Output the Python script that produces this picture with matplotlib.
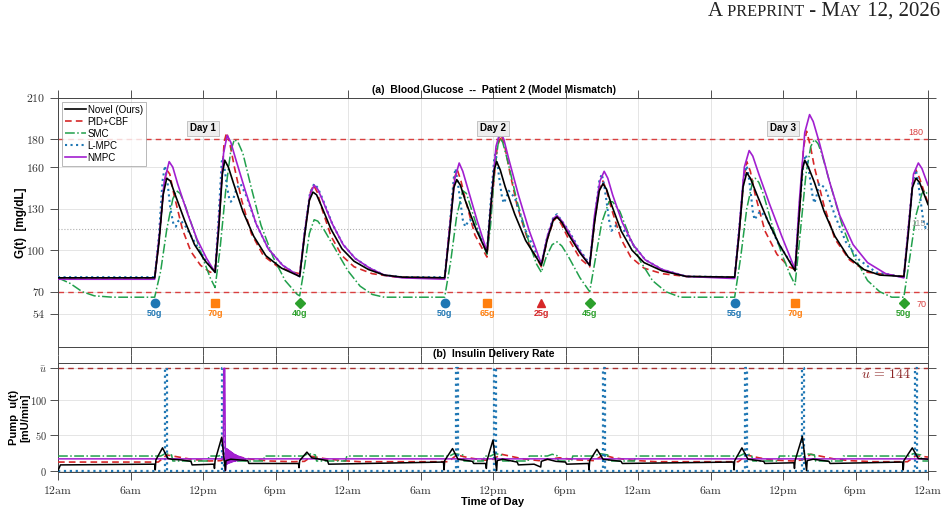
import numpy as np
import matplotlib
matplotlib.use('Agg')
import matplotlib.pyplot as plt
from matplotlib.offsetbox import TextArea, HPacker, AnchoredOffsetbox

plt.rcParams['font.family'] = ['Liberation Sans', 'DejaVu Sans']
plt.rcParams['mathtext.fontset'] = 'cm'

# ---------------- data (hours from 12am of day 1) ----------------
# (a) blood glucose [mg/dL], (time, value) pairs
g_novel = [(0, 80), (8.0, 80), (8.35, 105), (8.7, 140), (9.0, 152), (9.3, 150), (9.7, 140),
           (10.5, 121), (11.3, 104), (12.2, 92), (13.0, 84),
           (13.3, 115), (13.6, 155), (13.8, 165), (14.1, 160), (14.5, 149), (15.3, 128),
           (16.2, 110), (17.2, 96), (18.5, 87), (20.0, 81),
           (20.4, 110), (20.8, 136), (21.1, 142), (21.4, 140), (21.8, 132), (22.6, 115),
           (23.5, 101), (24.5, 92), (25.7, 86), (27.0, 82), (28.5, 80.5),
           (32.0, 80), (32.4, 112), (32.75, 145), (33.0, 151), (33.3, 147), (33.7, 136),
           (34.6, 115), (35.5, 98),
           (35.8, 130), (36.1, 158), (36.3, 164), (36.6, 158), (37.0, 146), (37.8, 126),
           (38.7, 107), (40.0, 89),
           (40.5, 108), (41.0, 122), (41.3, 124), (41.7, 120), (42.2, 112), (43.2, 98), (44.0, 89),
           (44.4, 120), (44.8, 143), (45.1, 148), (45.4, 144), (45.8, 133), (46.6, 114),
           (47.5, 100), (48.5, 91), (50.0, 85), (52.0, 81),
           (56.0, 80.5), (56.35, 110), (56.7, 146), (57.0, 156), (57.3, 152), (57.8, 141),
           (58.7, 122), (59.7, 104), (61.0, 85),
           (61.3, 120), (61.6, 158), (61.8, 165), (62.1, 160), (62.6, 149), (63.4, 128),
           (64.3, 110), (65.4, 95), (66.7, 86), (68.0, 82), (70.0, 81),
           (70.35, 110), (70.7, 145), (71.0, 152), (71.3, 149), (72.0, 133)]

g_pid = [(0, 80), (8.0, 80), (8.4, 110), (8.75, 145), (9.0, 158), (9.25, 155), (9.6, 140),
         (10.3, 115), (11.0, 99), (11.8, 89), (12.6, 84), (13.0, 85),
         (13.4, 130), (13.75, 178), (13.95, 185), (14.2, 178), (14.6, 160), (15.2, 136),
         (16.0, 112), (17.0, 96), (18.2, 88), (19.5, 84), (20.0, 83),
         (20.5, 118), (20.9, 142), (21.15, 147), (21.45, 142), (21.8, 131), (22.6, 110),
         (23.5, 96), (24.5, 88), (26.0, 83), (28.0, 80.5),
         (32.0, 80), (32.45, 120), (32.8, 152), (33.05, 158), (33.35, 150), (33.7, 137),
         (34.5, 111), (35.5, 95),
         (35.9, 135), (36.35, 175), (36.7, 183), (37.0, 174), (37.4, 156), (38.0, 132),
         (39.0, 104), (40.0, 88),
         (40.5, 108), (41.0, 121), (41.3, 124), (41.7, 118), (42.2, 109), (43.2, 94), (44.0, 88),
         (44.4, 120), (44.8, 145), (45.1, 150), (45.4, 143), (45.8, 130), (46.6, 108),
         (47.4, 95), (48.5, 87), (50.0, 83), (52.0, 81),
         (56.0, 80.5), (56.4, 115), (56.75, 152), (57.0, 164), (57.3, 157), (57.7, 140),
         (58.5, 114), (59.5, 97), (60.5, 88), (61.0, 86),
         (61.35, 125), (61.7, 174), (61.95, 186), (62.25, 176), (62.6, 160), (63.4, 132),
         (64.3, 108), (65.5, 93), (67.0, 84), (70.0, 81),
         (70.4, 118), (70.75, 150), (71.0, 158), (71.3, 152), (72.0, 134)]

g_smc = [(0, 80), (1.0, 76), (2.0, 70), (3.0, 67), (4.5, 66), (8.0, 66), (8.5, 85), (9.0, 115),
         (9.5, 137), (9.8, 143), (10.1, 141), (10.5, 133), (11.2, 115), (12.0, 94), (12.6, 80),
         (13.0, 73),
         (13.4, 100), (13.9, 145), (14.3, 172), (14.6, 180), (14.9, 178), (15.3, 170), (16.0, 145),
         (16.8, 118), (17.8, 95), (18.8, 78), (19.8, 68), (20.0, 67),
         (20.4, 88), (20.8, 112), (21.2, 122), (21.5, 121), (22.0, 115), (23.0, 100), (24.0, 85),
         (25.0, 74), (26.0, 68), (27.0, 66),
         (32.0, 66), (32.5, 92), (33.0, 125), (33.5, 143), (33.8, 141), (34.2, 130), (35.0, 108),
         (35.5, 97),
         (35.8, 118), (36.1, 155), (36.5, 182), (36.8, 178), (37.2, 165), (38.0, 135),
         (39.0, 105), (39.6, 90), (40.0, 84),
         (40.4, 95), (40.9, 104), (41.3, 106), (41.7, 103), (42.2, 96), (43.2, 80), (44.0, 70),
         (44.4, 90), (45.0, 120), (45.6, 135), (45.9, 135), (46.5, 128), (47.3, 110), (48.2, 92),
         (49.2, 78), (50.3, 70), (51.5, 66),
         (56.0, 66), (56.5, 95), (57.0, 130), (57.5, 150), (57.7, 152), (58.0, 149), (58.4, 140),
         (59.2, 115), (60.0, 95), (60.6, 82), (61.0, 75),
         (61.4, 110), (61.9, 155), (62.3, 175), (62.6, 180), (62.9, 177), (63.2, 170),
         (64.0, 145), (64.9, 118), (65.9, 95), (67.0, 78), (68.0, 70), (69.0, 66), (70.0, 66),
         (70.5, 95), (71.0, 125), (71.5, 141), (71.75, 143), (72.0, 140)]

g_lmpc = [(0, 80.5), (8.0, 80.5), (8.35, 110), (8.65, 150), (8.85, 161), (9.05, 150), (9.3, 130),
          (9.55, 119), (9.75, 117), (9.95, 121), (10.1, 122), (10.5, 118), (11.3, 106),
          (12.2, 93), (13.0, 84),
          (13.3, 125), (13.55, 164), (13.65, 167), (13.85, 155), (14.0, 145), (14.2, 136),
          (14.3, 135), (14.5, 137), (14.8, 145), (15.1, 148), (15.6, 139), (16.4, 119),
          (17.4, 101), (18.6, 89), (20.0, 81),
          (20.4, 112), (20.85, 141), (21.2, 148), (21.5, 145), (21.9, 137), (22.7, 119),
          (23.6, 104), (24.6, 94), (25.8, 87), (27.0, 82), (28.5, 80.5),
          (32.0, 80.5), (32.4, 115), (32.75, 152), (32.9, 159), (33.1, 148), (33.3, 135),
          (33.5, 122), (33.7, 117), (33.9, 120), (34.1, 122), (34.6, 116), (35.5, 99),
          (35.85, 140), (36.1, 166), (36.2, 170), (36.4, 160), (36.55, 150), (36.75, 138),
          (36.9, 134), (37.1, 138), (37.3, 143), (37.8, 138), (38.6, 116), (40.0, 90),
          (40.5, 110), (41.0, 124), (41.3, 126), (41.7, 121), (42.2, 115), (43.2, 100), (44.0, 90),
          (44.4, 122), (44.8, 150), (45.0, 155), (45.2, 147), (45.4, 135), (45.6, 122),
          (45.8, 114), (46.0, 116), (46.2, 118), (46.7, 116), (47.6, 104), (48.6, 93),
          (50.0, 86), (52.0, 81),
          (56.0, 80.5), (56.4, 118), (56.75, 152), (57.0, 161), (57.2, 151), (57.35, 140),
          (57.5, 128), (57.65, 122), (57.85, 125), (58.1, 128), (58.6, 124), (59.6, 105),
          (61.0, 86),
          (61.35, 130), (61.7, 164), (61.9, 169), (62.1, 160), (62.3, 148), (62.45, 139),
          (62.6, 134), (62.8, 140), (63.0, 148), (63.5, 145), (64.3, 125), (65.2, 106),
          (66.3, 93), (67.7, 84), (70.0, 80.5),
          (70.4, 118), (70.75, 150), (71.0, 158), (71.2, 148), (71.4, 135), (71.6, 122),
          (71.8, 116), (72.0, 120)]

g_nmpc = [(0, 79), (8.0, 79), (8.4, 112), (8.8, 150), (9.2, 164), (9.5, 160), (9.9, 148),
          (10.7, 127), (11.5, 108), (12.3, 94), (13.0, 84),
          (13.35, 125), (13.7, 170), (14.0, 183), (14.3, 178), (14.7, 166), (15.5, 143),
          (16.4, 119), (17.4, 101), (18.6, 89), (20.0, 81),
          (20.4, 112), (20.85, 140), (21.2, 147), (21.5, 144), (21.9, 136), (22.7, 119),
          (23.6, 104), (24.6, 94), (25.8, 87), (27.0, 82), (28.5, 80),
          (32.0, 79), (32.4, 115), (32.85, 152), (33.2, 163), (33.5, 157), (33.9, 145),
          (34.7, 121), (35.5, 99),
          (35.85, 135), (36.25, 175), (36.6, 186), (36.9, 180), (37.3, 166), (38.1, 140),
          (39.0, 114), (40.0, 90),
          (40.5, 110), (41.0, 123), (41.3, 125), (41.7, 121), (42.2, 114), (43.2, 99), (44.0, 89),
          (44.4, 125), (44.85, 150), (45.2, 157), (45.5, 152), (45.9, 140), (46.7, 120),
          (47.6, 104), (48.6, 93), (50.0, 86), (52.0, 81),
          (56.0, 79.5), (56.4, 118), (56.8, 160), (57.2, 172), (57.5, 168), (58.0, 155),
          (58.9, 133), (59.9, 110), (61.0, 86),
          (61.35, 135), (61.8, 185), (62.2, 198), (62.5, 193), (63.0, 178), (63.8, 151),
          (64.7, 125), (65.8, 104), (67.0, 91), (68.5, 83), (70.0, 80),
          (70.4, 118), (70.8, 155), (71.2, 163), (71.5, 159), (72.0, 147)]

# (b) insulin delivery [mU/min]
u_t_novel = [0, 0.2, 8.0, 8.05, 8.1, 8.65, 9.1, 9.4, 10.2, 11.0, 11.1,
             12.9, 12.95, 13.0, 13.55, 13.85, 13.9, 14.3, 15.7, 15.8,
             19.9, 19.95, 20.0, 20.6, 21.0, 22.3, 22.4,
             31.9, 31.95, 32.0, 32.65, 33.1, 34.3, 34.4,
             35.4, 35.45, 35.5, 36.0, 36.3, 36.35, 36.8, 38.0, 38.1,
             39.4, 39.95, 40.0, 40.5, 41.2, 42.0, 42.1,
             43.9, 43.95, 44.0, 44.6, 45.1, 46.6, 46.7,
             55.9, 55.95, 56.0, 56.6, 57.1, 58.4, 58.5,
             60.9, 60.95, 61.0, 61.6, 61.95, 62.0, 62.5, 63.8, 63.9,
             69.9, 69.95, 70.0, 70.7, 71.2, 72.0]
u_novel = [0, 8, 9, 1, 15, 32, 17, 16, 15, 13, 8,
           9, 3, 14, 47, 0, 14, 16, 14, 10,
           10, 4, 14, 26, 18, 14, 9,
           12, 1, 14, 31, 16, 13, 10,
           10, 3, 14, 43, 0, 14, 16, 12, 8,
           9, 5, 13, 16, 13, 12, 9,
           10, 1, 14, 30, 16, 13, 10,
           12, 1, 14, 32, 16, 13, 10,
           11, 3, 14, 48, 0, 14, 16, 13, 10,
           12, 1, 14, 32, 17, 16]

u_t_pid = [0, 8.3, 9.0, 10.0, 11.0, 12.5, 13.5, 14.2, 15.0, 16.0, 17.5, 19.5,
           20.4, 21.0, 22.0, 23.5, 25.0, 32.3, 33.0, 34.0, 35.3, 36.0, 36.7, 37.5, 38.5, 39.8,
           40.6, 41.5, 43.0, 44.4, 45.1, 46.0, 47.5, 49.5, 56.3, 57.0, 58.0, 59.0, 60.8,
           61.6, 62.3, 63.2, 64.2, 65.5, 67.5, 70.3, 71.0, 72.0]
u_pid = [12, 12, 22, 19, 16, 13.5, 14, 22, 19, 16, 13.5, 12.5,
         13, 20, 17, 14, 12.5, 12.5, 22, 18, 14.5, 16, 23, 20, 16.5, 14,
         16, 18, 15, 14, 22, 18, 14.5, 12.5, 12.5, 22, 18, 15, 13.5,
         15, 23, 20, 16.5, 14, 12.5, 12.5, 21, 19]

u_t_smc = [0, 8.5, 8.9, 9.4, 9.5, 12.4, 12.5, 13.3, 13.7, 14.6, 14.7, 17.0, 17.1,
           20.3, 20.7, 21.3, 21.4, 23.8, 23.9, 32.4, 32.8, 33.5, 33.6, 35.2, 35.3,
           35.8, 36.2, 36.7, 36.8, 38.9, 39.0, 40.5, 40.9, 41.3, 41.4, 42.5, 42.6,
           44.4, 44.8, 45.5, 45.6, 47.7, 47.8, 56.4, 56.8, 57.4, 57.5, 59.6, 59.7,
           61.4, 61.8, 62.6, 62.7, 64.9, 65.0, 70.4, 70.8, 71.4, 71.5, 72.0]
u_smc = [20.5, 20.5, 24, 22, 13.5, 13.5, 20.5, 20.5, 24, 22, 13.5, 13.5, 20.5,
         20.5, 24, 22, 13.5, 13.5, 20.5, 20.5, 24, 22, 13.5, 13.5, 20.5,
         20.5, 24, 22, 13.5, 13.5, 20.5, 20.5, 23, 21, 13.5, 13.5, 20.5,
         20.5, 24, 22, 13.5, 13.5, 20.5, 20.5, 24, 22, 13.5, 13.5, 20.5,
         20.5, 24, 22, 13.5, 13.5, 20.5, 20.5, 24, 22, 13.5, 13.5]

u_t_lmpc = [0, 8.86, 8.86, 9.03, 9.03, 13.57, 13.57, 13.74, 13.74,
            32.92, 32.92, 33.09, 33.09, 36.09, 36.09, 36.26, 36.26,
            45.12, 45.12, 45.29, 45.29, 56.82, 56.82, 56.99, 56.99,
            61.58, 61.58, 61.75, 61.75, 70.92, 70.92, 71.09, 71.09, 72.0]
u_lmpc = [0, 0, 144, 144, 0, 0, 144, 144, 0,
          0, 144, 144, 0, 0, 144, 144, 0,
          0, 144, 144, 0, 0, 144, 144, 0,
          0, 144, 144, 0, 0, 144, 144, 0, 0]

u_t_nmpc = [0, 13.68, 13.72, 13.80, 13.86, 13.90,
            13.95, 13.99, 14.03, 14.07, 14.11, 14.15, 14.19, 14.23, 14.27, 14.31,
            14.35, 14.39, 14.43, 14.47, 14.51, 14.55, 14.59, 14.63, 14.67, 14.71,
            14.75, 14.79, 14.83, 14.87, 14.91, 14.95, 14.99, 15.03, 15.07, 15.11,
            15.15, 15.19, 15.23, 15.27, 15.31, 15.35, 15.39, 15.43, 15.47, 15.51,
            15.6, 72.0]
u_nmpc = [16.5, 16.5, 144, 144, 0, 20,
          31, 9, 30, 10, 29, 10.5, 28, 11, 27, 11.5,
          26, 12, 25, 12.5, 24, 13, 23, 13, 22.5, 13.5,
          22, 14, 21, 14, 20.5, 14.5, 20, 14.5, 19.5, 15,
          19, 15, 18.5, 15.5, 18, 15.5, 17.5, 16, 17, 16,
          16.5, 16.5]

# meals
meal_times = [8, 13, 20, 32, 35.5, 40, 44, 56, 61, 70]
meal_grams = [50, 70, 40, 50, 65, 25, 45, 55, 70, 50]
meal_kinds = ['b', 'l', 'd', 'b', 'l', 's', 'd', 'b', 'l', 'd']
day_names = ['Day 1', 'Day 2', 'Day 3']
day_noon = [12, 36, 60]

g_hyper, g_hypo, g_target = 180, 70, 115
u_max = 144

# ---------------- styles ----------------
c_pid = '#d62728'
c_smc = '#21a04c'
c_lmpc = '#1f77b4'
c_nmpc = '#a21fd0'
kind_style = {'b': ('o', '#1f77b4'), 'l': ('s', '#ff7f0e'),
              'd': ('D', '#2ca02c'), 's': ('^', '#d62728')}

W, H = 946, 516
fig = plt.figure(figsize=(W / 100, H / 100), dpi=100)
ax1 = fig.add_axes([58 / W, 1 - 347 / H, 870 / W, 249 / H])
ax2 = fig.add_axes([58 / W, 1 - 472 / H, 870 / W, 109 / H])

xt = np.arange(0, 73, 6)
xlab = [r'$\mathrm{%s}$' % s for s in ['12am', '6am', '12pm', '6pm'] * 3 + ['12am']]

for ax in (ax1, ax2):
    ax.set_xlim(0, 72)
    ax.set_xticks(xt)
    ax.grid(True, color='#e0e0e0', lw=0.6)
    ax.set_axisbelow(True)
    ax.tick_params(direction='out', length=5.5, width=0.6, color='#333333',
                   top=True, right=True, labelsize=8.5, labelcolor='#333333')
    for sp in ax.spines.values():
        sp.set_color('#444444')
        sp.set_linewidth(0.7)

# ---------------- (a) glucose ----------------
ax1.set_ylim(30, 210)
yt = [54, 70, 100, 130, 160, 180, 210]
ax1.set_yticks(yt, labels=[r'$%d$' % v for v in yt])
ax1.tick_params(labelbottom=False)

ax1.axhline(g_hyper, color='#d94040', ls=(0, (4, 3)), lw=1.0, zorder=1)
ax1.axhline(g_hypo, color='#d94040', ls=(0, (4, 3)), lw=1.0, zorder=1)
ax1.axhline(g_target, color='#b0b0b0', ls=':', lw=0.8, zorder=1)

series = [(g_novel, dict(color='black', lw=1.2, label='Novel (Ours)', zorder=5)),
          (g_pid, dict(color=c_pid, ls=(0, (4, 2.5)), lw=1.2, label='PID+CBF', zorder=3)),
          (g_smc, dict(color=c_smc, ls='-.', lw=1.1, label='SMC', zorder=3)),
          (g_lmpc, dict(color=c_lmpc, ls=':', lw=1.5, label='L-MPC', zorder=3)),
          (g_nmpc, dict(color=c_nmpc, lw=1.2, label='NMPC', zorder=4))]
for pts, kw in series:
    tt, gg = zip(*pts)
    ax1.plot(tt, gg, **kw)

ax1.text(71.6, g_hyper + 2, str(g_hyper), color='#d94040', fontsize=6.5, ha='right', va='bottom')
ax1.text(71.9, 61, str(g_hypo), color='#d94040', fontsize=6.5, ha='right', va='center')
ax1.text(71.8, g_target + 1, str(g_target), color='#999999', fontsize=6.5, ha='right', va='bottom')

for tm, gr, kd in zip(meal_times, meal_grams, meal_kinds):
    mk, col = kind_style[kd]
    ax1.plot(tm, 62, marker=mk, color=col, ms=6 if mk != 'D' else 5, ls='none', zorder=6)
    ax1.text(tm, 57.5, '%dg' % gr, color=col, fontsize=6.5, fontweight='bold',
             ha='center', va='top')

for nm, tn in zip(day_names, day_noon):
    ax1.text(tn, 188, nm, fontsize=7, fontweight='bold', ha='center', va='center', zorder=7,
             bbox=dict(boxstyle='square,pad=0.3', fc='#eeeeee', ec='#bbbbbb', lw=0.6))

leg = ax1.legend(loc='upper left', fontsize=7, frameon=True, fancybox=False,
                 handlelength=2.2, handletextpad=0.15, labelspacing=0.2,
                 borderpad=0.3, borderaxespad=0.4)
leg.get_frame().set_edgecolor('#999999')
leg.get_frame().set_linewidth(0.6)

ax1.set_ylabel('G(t)  [mg/dL]', fontsize=8.5, fontweight='bold')
ax1.yaxis.set_label_coords(-0.036, 0.5)

# ---------------- (b) insulin ----------------
ax2.set_ylim(-2, 151.5)
ax2.set_yticks([0, 50, 100, u_max], labels=[r'$0$', r'$50$', r'$100$', r'$\bar{u}$'])
ax2.set_xticklabels(xlab)
ax2.tick_params(axis='y', labelsize=7.5, pad=2.5)

ax2.axhline(u_max, color='#a83232', ls=(0, (4, 3)), lw=1.0, zorder=1)
ax2.plot(u_t_novel, u_novel, color='black', lw=1.1, zorder=5)
ax2.plot(u_t_pid, u_pid, color=c_pid, ls=(0, (4, 2.5)), lw=1.2, zorder=3)
ax2.plot(u_t_smc, u_smc, color=c_smc, ls='-.', lw=1.1, zorder=3)
ax2.plot(u_t_lmpc, u_lmpc, color=c_lmpc, ls=':', lw=1.6, zorder=3)
ax2.plot(u_t_nmpc, u_nmpc, color=c_nmpc, lw=1.1, zorder=4)

ax2.text(68.5, 136, r'$\bar{u}\,=\,%d$' % u_max, color='#8b2323', fontsize=10,
         ha='center', va='center')

ax2.set_ylabel('Pump  u(t)\n[mU/min]', fontsize=8, fontweight='bold', linespacing=1.1)
ax2.yaxis.set_label_coords(-0.032, 0.5)
ax2.set_xlabel('Time of Day', fontsize=8, fontweight='bold')
ax2.xaxis.set_label_coords(0.5, -0.23)

# panel titles
fig.text(494 / W, 1 - 90 / H, '(a)  Blood Glucose  --  Patient 2 (Model Mismatch)',
         fontsize=7.5, fontweight='bold', ha='center', va='center')
fig.text(494 / W, 1 - 354 / H, '(b)  Insulin Delivery Rate',
         fontsize=7.5, fontweight='bold', ha='center', va='center')

# running header in small caps
big = dict(family='Liberation Serif', size=15, color='#222222')
small = dict(family='Liberation Serif', size=11.7, color='#222222')
pieces = [('A', big), (' PREPRINT', small), (' - M', big), ('AY', small), (' 12, 2026', big)]
box = HPacker(children=[TextArea(s, textprops=p) for s, p in pieces],
              align='baseline', pad=0, sep=0)
hdr = AnchoredOffsetbox(loc='upper right', child=box, pad=0, borderpad=0, frameon=False,
                        bbox_to_anchor=(940 / W, 1 - 2 / H), bbox_transform=fig.transFigure)
fig.add_artist(hdr)

fig.savefig('out.png', dpi=100)
